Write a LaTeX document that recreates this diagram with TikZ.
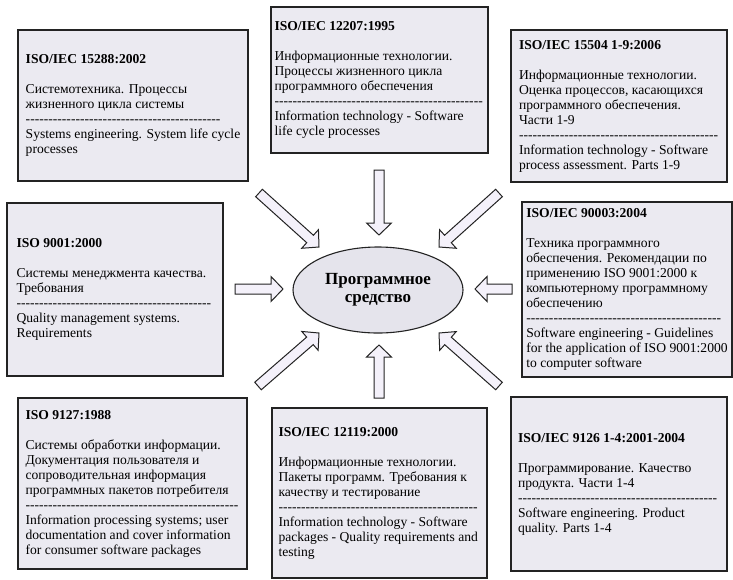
\documentclass[tikz,border=0pt]{standalone}
\usepackage{fontspec}
\setmainfont{Liberation Serif}
\usetikzlibrary{calc,shapes.geometric}

\definecolor{boxfill}{RGB}{235,234,241}
\definecolor{ovalfill}{RGB}{229,228,236}
\definecolor{arrowfill}{RGB}{244,241,250}
\definecolor{edgegray}{RGB}{35,35,35}

% row of hyphens between the Russian and the English title
\newcommand{\dashrow}[1]{\hbox to #1pt{\leaders\hbox{-}\hfill}}

\begin{document}
\begin{tikzpicture}[x=1pt,y=-1pt,
    stdbox/.style={draw=edgegray,fill=boxfill,line width=1.1pt,align=left,
      inner xsep=3pt,font=\fontsize{13.6}{15}\selectfont},
    prog/.style={ellipse,draw=edgegray,fill=ovalfill,line width=1.1pt,align=center,
      minimum width=170pt,minimum height=86pt,
      font=\fontsize{17}{18}\selectfont\bfseries},
    blockarrow/.style={draw=edgegray,fill=arrowfill,line width=1pt,line join=miter,
      to path={
        ($(\tikztostart)!5pt!90:(\tikztotarget)$)
        -- ($(\tikztotarget)!12pt!(\tikztostart)!5pt!90:(\tikztotarget)$)
        -- ($(\tikztotarget)!12pt!(\tikztostart)!12.5pt!90:(\tikztotarget)$)
        -- (\tikztotarget)
        -- ($(\tikztotarget)!12pt!(\tikztostart)!12.5pt!-90:(\tikztotarget)$)
        -- ($(\tikztotarget)!12pt!(\tikztostart)!5pt!-90:(\tikztotarget)$)
        -- ($(\tikztostart)!5pt!-90:(\tikztotarget)$)
        -- cycle}}]

    \useasboundingbox (0,0) rectangle (733,579);

    %==================== Centre ====================
    \node[prog] (sw) at (378,290) {Программное\\средство};

    %==================== Top row ====================
    \node[stdbox,minimum width=230pt,minimum height=151pt] (b1) at (133,105.5)
      {\textbf{ISO/IEC 15288:2002}\\[15pt]
       Системотехника. Процессы\\
       жизненного цикла системы\\
       \dashrow{195}\\
       Systems engineering. System life cycle\\
       processes};

    \node[stdbox,minimum width=217pt,minimum height=146pt] (b2) at (379.5,80)
      {\textbf{ISO/IEC 12207:1995}\\[15pt]
       Информационные технологии.\\
       Процессы жизненного цикла\\
       программного обеспечения\\
       \dashrow{210}\\
       Information technology - Software\\
       life cycle processes};

    \node[stdbox,minimum width=216pt,minimum height=152pt] (b3) at (619,106)
      {\textbf{ISO/IEC 15504 1-9:2006}\\[15pt]
       Информационные технологии.\\
       Оценка процессов, касающихся\\
       программного обеспечения.\\
       Части 1-9\\
       \dashrow{200}\\
       Information technology - Software\\
       process assessment. Parts 1-9};

    %==================== Middle row ====================
    \node[stdbox,minimum width=216pt,minimum height=173pt] (b4) at (115,289.5)
      {\textbf{ISO 9001:2000}\\[15pt]
       Системы менеджмента качества.\\
       Требования\\
       \dashrow{197}\\
       Quality management systems.\\
       Requirements};

    \node[stdbox,minimum width=210pt,minimum height=175pt] (b5) at (627,289.5)
      {\textbf{ISO/IEC 90003:2004}\\[15pt]
       Техника программного\\
       обеспечения. Рекомендации по\\
       применению ISO 9001:2000 к\\
       компьютерному программному\\
       обеспечению\\
       \dashrow{198}\\
       Software engineering - Guidelines\\
       for the application of ISO 9001:2000\\
       to computer software};

    %==================== Bottom row ====================
    \node[stdbox,minimum width=229pt,minimum height=171pt] (b6) at (132.5,483.5)
      {\textbf{ISO 9127:1988}\\[15pt]
       Системы обработки информации.\\
       Документация пользователя и\\
       сопроводительная информация\\
       программных пакетов потребителя\\
       \dashrow{214}\\
       Information processing systems; user\\
       documentation and cover information\\
       for consumer software packages};

    \node[stdbox,minimum width=215pt,minimum height=170pt] (b7) at (379.5,493)
      {\textbf{ISO/IEC 12119:2000}\\[15pt]
       Информационные технологии.\\
       Пакеты программ. Требования к\\
       качеству и тестирование\\
       \dashrow{202}\\
       Information technology - Software\\
       packages - Quality requirements and\\
       testing};

    \node[stdbox,minimum width=216pt,minimum height=174pt] (b8) at (619,484)
      {\textbf{ISO/IEC 9126 1-4:2001-2004}\\[15pt]
       Программирование. Качество\\
       продукта. Части 1-4\\
       \dashrow{202}\\
       Software engineering. Product\\
       quality. Parts 1-4};

    %==================== Block arrows into the centre ====================
    \foreach \i/\xa/\ya/\xb/\yb in {1/259/193/319/247, 2/379/170/379/235,
        3/499/193/439/247, 4/235/289/283/289, 5/512/289/475/289,
        6/258/386/319/333, 7/379/398/379/345, 8/499/386/439/333} {
      \coordinate (t\i) at (\xa,\ya);
      \coordinate (h\i) at (\xb,\yb);
      \draw[blockarrow] (t\i) to (h\i);
    }

\end{tikzpicture}
\end{document}
